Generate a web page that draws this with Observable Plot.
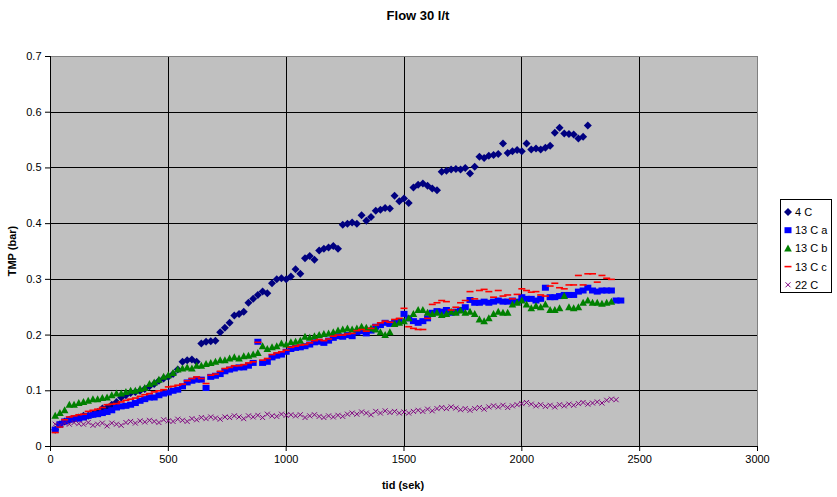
<!DOCTYPE html>
<html><head><meta charset="utf-8">
<script src="https://cdn.jsdelivr.net/npm/d3@7"></script>
<script src="https://cdn.jsdelivr.net/npm/@observablehq/plot@0.6"></script>
<style>body{margin:0;background:#fff}</style>
</head><body><div id="chart"></div>
<script>
// sample times (s)
const tid = [20,40,60,80,100,120,140,160,180,200,
220,240,260,280,300,320,340,360,380,400,
420,440,460,480,500,520,540,560,580,600,
620,640,660,680,700,720,740,760,780,800,
820,840,860,880,900,920,940,960,980,1000,
1020,1040,1060,1080,1100,1120,1140,1160,1180,1200,
1220,1240,1260,1280,1300,1320,1340,1360,1380,1400,
1420,1440,1460,1480,1500,1520,1540,1560,1580,1600,
1620,1640,1660,1680,1700,1720,1740,1760,1780,1800,
1820,1840,1860,1880,1900,1920,1940,1960,1980,2000,
2020,2040,2060,2080,2100,2120,2140,2160,2180,2200,
2220,2240,2260,2280,2300,2320,2340,2360,2380,2400,
2420];

const v4C = [0.030,0.040,0.045,0.048,0.050,0.052,0.055,0.055,0.058,0.062,
0.068,0.070,0.075,0.080,0.088,0.092,0.096,0.098,0.100,0.103,
0.108,0.112,0.118,0.122,0.125,0.130,0.138,0.152,0.155,0.156,
0.152,0.185,0.188,0.189,0.190,0.205,0.213,0.222,0.235,0.238,
0.242,0.258,0.265,0.272,0.278,0.275,0.293,0.300,0.302,0.300,
0.305,0.318,0.310,0.338,0.342,0.335,0.352,0.355,0.357,0.360,
0.355,0.398,0.400,0.402,0.400,0.415,0.405,0.412,0.423,0.425,
0.428,0.427,0.450,0.440,0.445,0.437,0.465,0.470,0.472,0.468,
0.463,0.460,0.493,0.495,0.497,0.498,0.497,0.500,0.490,0.502,
0.520,0.518,0.522,0.523,0.525,0.544,0.527,0.530,0.532,0.530,
0.544,0.533,0.535,0.533,0.536,0.540,0.563,0.572,0.562,0.561,
0.560,0.553,0.556,0.576];

const v13a = [0.030,0.040,0.045,0.048,0.050,0.050,0.052,0.055,0.057,0.058,
0.060,0.062,0.065,0.070,0.072,0.073,0.075,0.078,0.082,0.085,
0.088,0.088,0.092,0.095,0.097,0.100,0.102,0.108,0.115,0.118,
0.120,0.120,0.105,0.125,0.127,0.130,0.135,0.138,0.140,0.142,
0.142,0.145,0.150,0.188,0.150,0.152,0.160,0.163,0.165,0.170,
0.175,0.177,0.178,0.180,0.183,0.187,0.188,0.186,0.190,0.195,
0.198,0.197,0.200,0.198,0.205,0.207,0.203,0.208,0.215,0.218,
0.222,0.220,0.222,0.225,0.238,0.230,0.225,0.222,0.225,0.230,
0.240,0.243,0.242,0.245,0.240,0.242,0.245,0.250,0.263,0.258,
0.258,0.260,0.258,0.260,0.262,0.260,0.260,0.262,0.260,0.268,
0.265,0.265,0.262,0.265,0.285,0.268,0.268,0.270,0.272,0.272,
0.272,0.278,0.280,0.285,0.280,0.278,0.280,0.280,0.280,0.262,
0.262];

const v13b = [0.055,0.060,0.065,0.075,0.075,0.078,0.080,0.082,0.085,0.085,
0.087,0.088,0.092,0.095,0.095,0.098,0.100,0.100,0.103,0.105,
0.112,0.115,0.120,0.125,0.128,0.132,0.138,0.140,0.142,0.140,
0.145,0.145,0.148,0.150,0.152,0.155,0.155,0.158,0.160,0.158,
0.162,0.163,0.165,0.168,0.180,0.175,0.178,0.180,0.185,0.183,
0.187,0.188,0.190,0.197,0.195,0.198,0.200,0.202,0.203,0.205,
0.208,0.210,0.212,0.210,0.212,0.215,0.213,0.212,0.210,0.205,
0.200,0.205,0.220,0.222,0.225,0.230,0.238,0.245,0.245,0.240,
0.238,0.240,0.236,0.238,0.242,0.240,0.244,0.240,0.242,0.238,
0.228,0.225,0.230,0.238,0.242,0.240,0.240,0.255,0.258,0.262,
0.255,0.248,0.252,0.250,0.255,0.245,0.245,0.248,0.270,0.250,
0.248,0.250,0.258,0.262,0.258,0.258,0.256,0.258,0.260];

const v13c = [0.025,0.035,0.048,0.053,0.055,0.057,0.058,0.063,0.065,0.067,
0.070,0.075,0.076,0.077,0.080,0.083,0.085,0.087,0.090,0.093,
0.095,0.098,0.100,0.102,0.107,0.108,0.110,0.112,0.118,0.122,
0.125,0.122,0.113,0.128,0.130,0.135,0.140,0.142,0.145,0.145,
0.147,0.150,0.152,0.187,0.155,0.158,0.165,0.168,0.170,0.173,
0.178,0.180,0.182,0.183,0.186,0.190,0.192,0.190,0.193,0.198,
0.200,0.200,0.202,0.203,0.208,0.210,0.207,0.212,0.218,0.222,
0.225,0.223,0.228,0.230,0.248,0.215,0.212,0.210,0.210,0.230,
0.255,0.258,0.262,0.260,0.245,0.250,0.258,0.262,0.278,0.265,
0.280,0.282,0.278,0.268,0.280,0.270,0.272,0.265,0.273,0.283,
0.280,0.277,0.278,0.272,0.270,0.288,0.293,0.285,0.283,0.290,
0.290,0.307,0.290,0.310,0.310,0.295,0.307,0.302,0.300];

const v22 = [0.040,0.038,0.042,0.040,0.043,0.041,0.040,0.043,0.038,0.040,
0.042,0.037,0.042,0.040,0.038,0.043,0.045,0.042,0.046,0.044,
0.047,0.045,0.043,0.048,0.046,0.045,0.049,0.047,0.045,0.050,
0.048,0.052,0.050,0.053,0.051,0.049,0.053,0.052,0.055,0.053,
0.050,0.055,0.053,0.056,0.052,0.058,0.055,0.054,0.058,0.056,
0.057,0.055,0.057,0.052,0.055,0.057,0.054,0.052,0.055,0.053,
0.056,0.054,0.058,0.060,0.058,0.062,0.060,0.057,0.063,0.060,
0.064,0.061,0.063,0.060,0.062,0.060,0.063,0.065,0.063,0.067,
0.064,0.068,0.070,0.068,0.071,0.069,0.066,0.068,0.065,0.068,
0.070,0.067,0.071,0.073,0.071,0.074,0.070,0.073,0.075,0.077,
0.079,0.076,0.073,0.075,0.072,0.074,0.071,0.075,0.073,0.076,
0.074,0.077,0.079,0.076,0.078,0.080,0.078,0.083,0.085,0.084];

const seriesNames = ["4 C", "13 C a", "13 C b", "13 C c", "22 C"];
const seriesColors = ["#000080", "#0000FF", "#008000", "#FF0000", "#800080"];
const xTicks = [0, 500, 1000, 1500, 2000, 2500, 3000];
const yTicks = [0, 0.1, 0.2, 0.3, 0.4, 0.5, 0.6, 0.7];

// marker shapes
const symDiamond = {draw(c){ c.moveTo(0,-4); c.lineTo(4,0); c.lineTo(0,4); c.lineTo(-4,0); c.closePath(); }};
const symSquare = {draw(c){ c.rect(-3.5,-3,7,6); }};
const symTriangle = {draw(c){ c.moveTo(0,-4); c.lineTo(3.8,3); c.lineTo(-3.8,3); c.closePath(); }};
const symDash = {draw(c){ c.rect(-3.5,-0.8,7,1.6); }};
const symX = {draw(c){ c.moveTo(-2.5,-2.5); c.lineTo(2.5,2.5); c.moveTo(2.5,-2.5); c.lineTo(-2.5,2.5); }};
const symbols = [symDiamond, symSquare, symTriangle, symDash, symX];

const seriesVals = [v4C, v13a, v13b, v13c, v22];
const rows = seriesVals.map(vals => vals.map((v, i) => ({t: tid[i], v})));

const W = 837, H = 497;
const plot = Plot.plot({
  width: W, height: H,
  marginLeft: 50, marginRight: 80, marginTop: 56, marginBottom: 51,
  style: {fontFamily: "'Liberation Sans', Arial, sans-serif", fontSize: "11px", color: "#000", background: "#fff"},
  x: {domain: [0, 3000]},
  y: {domain: [0, 0.7]},
  marks: [
    Plot.frame({fill: "#C0C0C0", stroke: "none"}),
    Plot.gridX(xTicks.slice(1, -1), {stroke: "#000", strokeOpacity: 1, shapeRendering: "crispEdges"}),
    Plot.gridY(yTicks.slice(1, -1), {stroke: "#000", strokeOpacity: 1, shapeRendering: "crispEdges"}),
    Plot.frame({stroke: "#808080", shapeRendering: "crispEdges"}),
    Plot.ruleX([0], {stroke: "#000", shapeRendering: "crispEdges"}),
    Plot.ruleY([0], {stroke: "#000", shapeRendering: "crispEdges"}),
    Plot.axisX({ticks: xTicks, tickSize: 5, tickPadding: 4, label: null, tickFormat: d => String(d), fontSize: 11}),
    Plot.axisY({ticks: yTicks, tickSize: 5, tickPadding: 4, label: null, tickFormat: d => d === 0 ? "0" : d.toFixed(1), fontSize: 11}),
    ...rows.map((data, k) => Plot.dot(data, {
      x: "t", y: "v", symbol: symbols[k], r: 3,
      fill: k === 4 ? "none" : seriesColors[k],
      stroke: k === 4 ? seriesColors[k] : "none",
      strokeWidth: 1
    }))
  ]
});

const svg = d3.select(plot);
// title
svg.append("text").attr("x", 418).attr("y", 20).attr("text-anchor", "middle")
  .attr("font-weight", "bold").attr("font-size", 13).attr("fill", "#000").text("Flow 30 l/t");
// axis titles
svg.append("text").attr("x", 403).attr("y", 489).attr("text-anchor", "middle")
  .attr("font-weight", "bold").attr("font-size", 11).attr("fill", "#000").text("tid (sek)");
svg.append("text").attr("transform", "translate(16,251) rotate(-90)").attr("text-anchor", "middle")
  .attr("font-weight", "bold").attr("font-size", 11).attr("fill", "#000").text("TMP (bar)");
// legend
const lg = svg.append("g");
lg.append("rect").attr("x", 780.5).attr("y", 199.5).attr("width", 51).attr("height", 93)
  .attr("fill", "#fff").attr("stroke", "#000").attr("stroke-width", 1);
seriesNames.forEach((name, k) => {
  const y = 216 + k * 18.2;
  const path = d3.path();
  symbols[k].draw(path);
  lg.append("path").attr("transform", `translate(788,${y - 4})`).attr("d", path.toString())
    .attr("fill", k === 4 ? "none" : seriesColors[k])
    .attr("stroke", k === 4 ? seriesColors[k] : "none").attr("stroke-width", 1);
  lg.append("text").attr("x", 795).attr("y", y).attr("text-anchor", "start")
    .attr("font-size", 11).attr("fill", "#000").text(name);
});

document.getElementById("chart").appendChild(plot);
</script>
</body></html>
